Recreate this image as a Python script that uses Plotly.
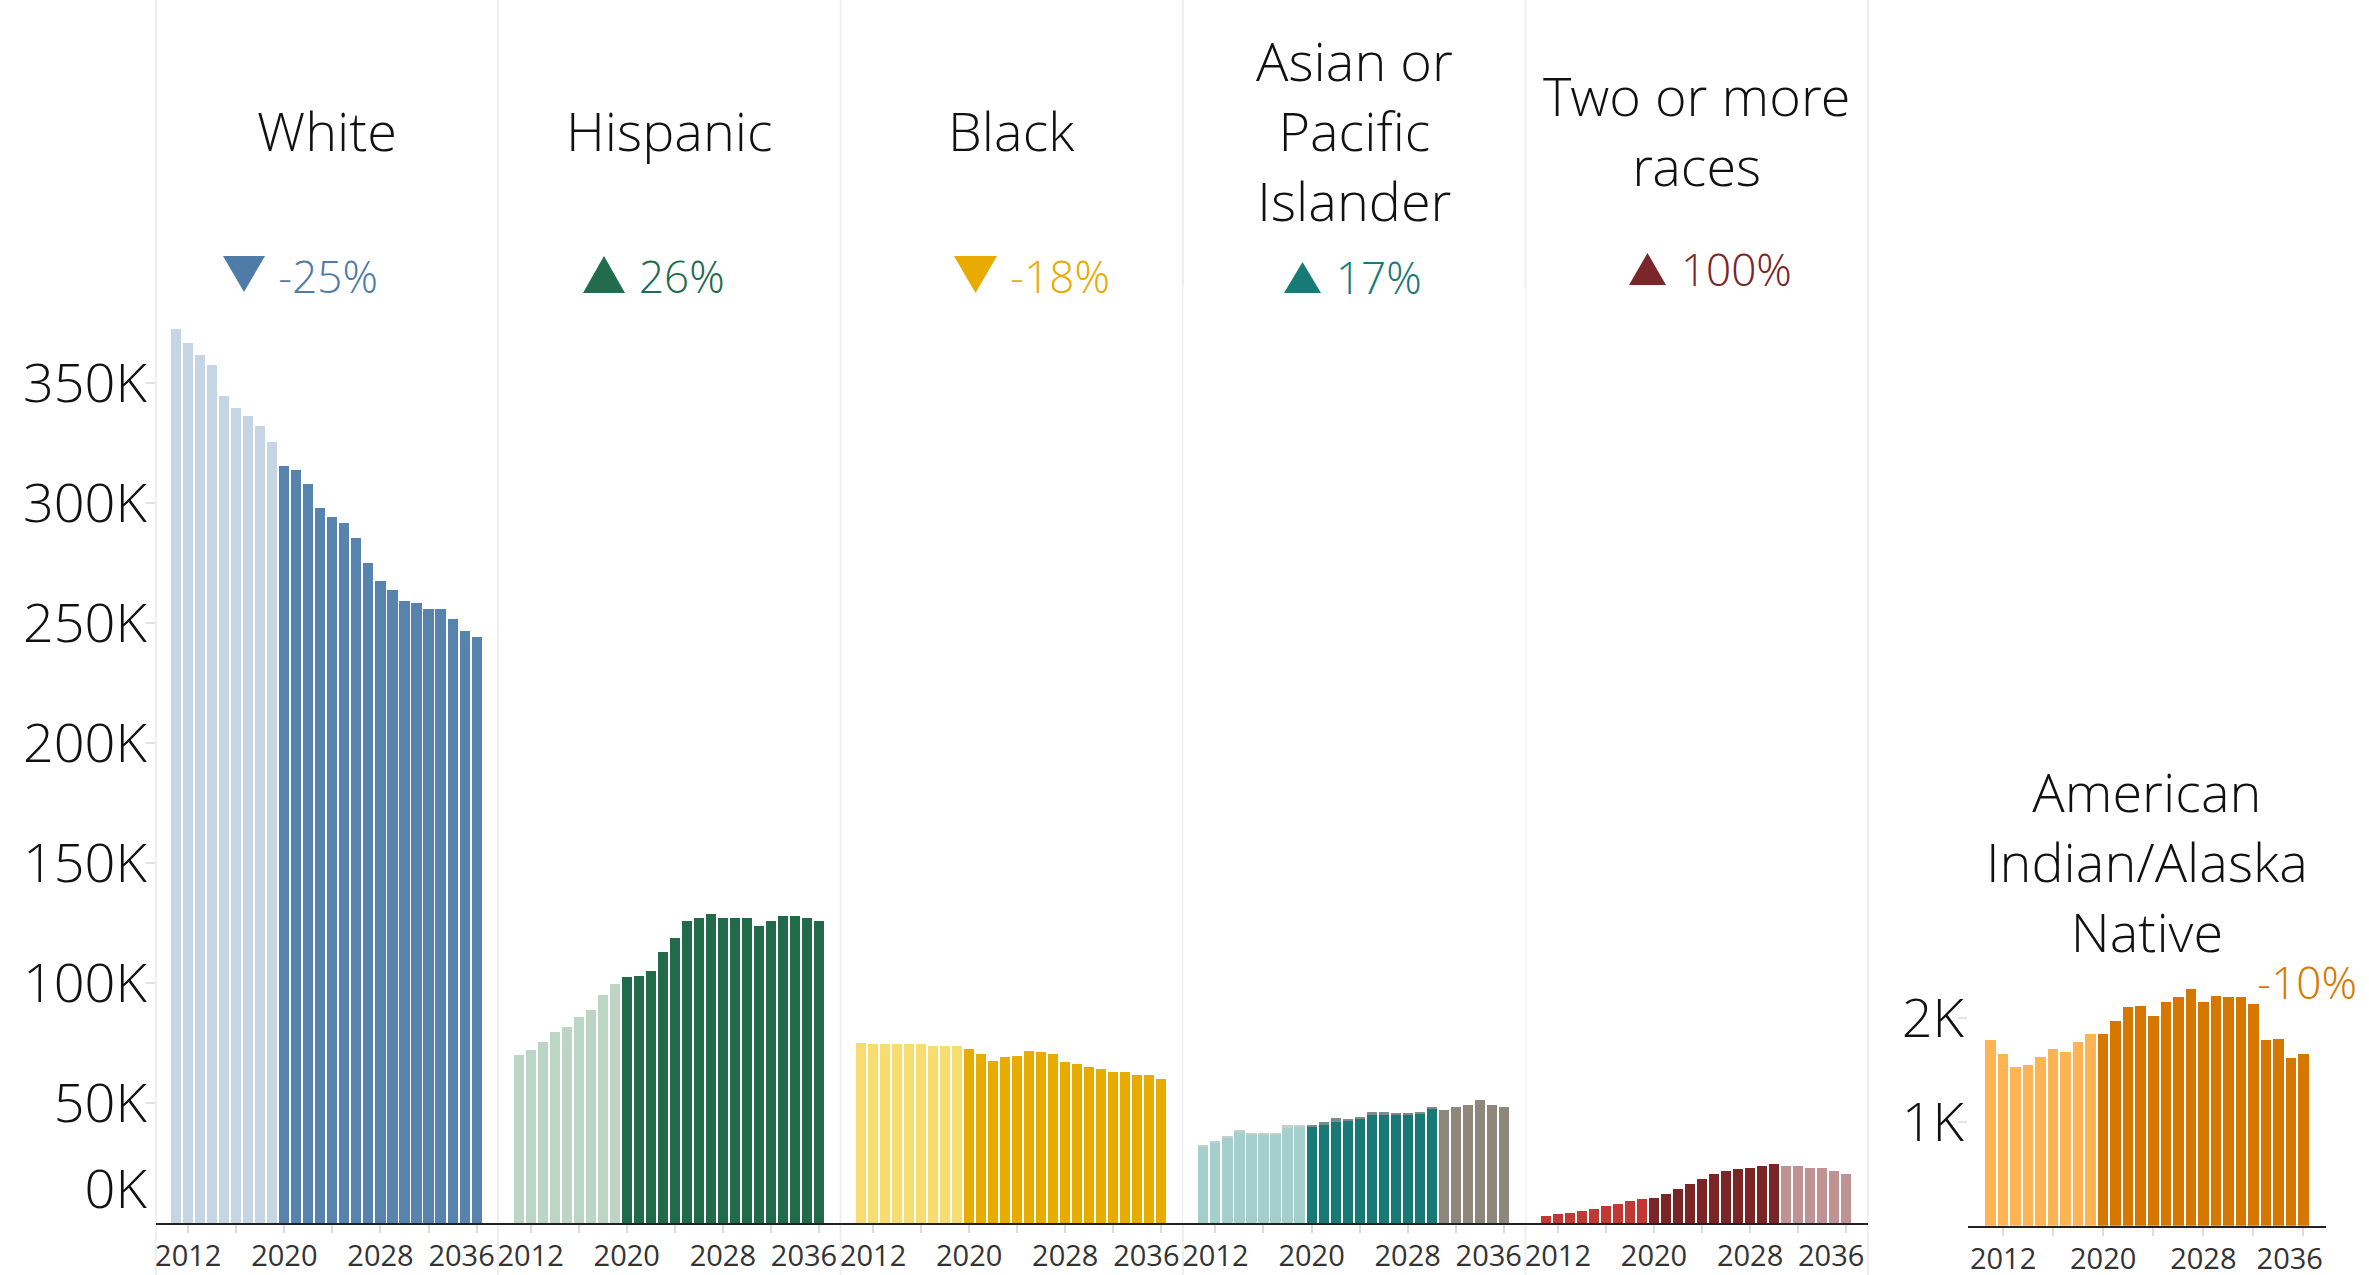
import plotly.graph_objects as go

W, H = 2369, 1275


def X(px):
    return px / W


def Y(py):
    return 1 - py / H


# ---------------- data ----------------
years = list(range(2011, 2037))
tick_years = [2012, 2020, 2028, 2036]

white = [372.8, 366.7, 361.8, 357.6, 344.6, 339.7, 336.4, 332.2, 325.4,
         315.7, 313.7, 308.2, 297.9, 294.4, 291.7, 285.4, 275.1, 267.5,
         264.0, 259.3, 258.6, 255.8, 255.8, 251.7, 246.9, 244.2]
hispanic = [70.3, 72.2, 75.7, 79.9, 81.9, 86.1, 88.9, 95.0, 99.9,
            102.6, 103.2, 105.3, 112.9, 119.0, 126.0, 127.4, 128.8, 127.4,
            127.4, 127.4, 124.0, 126.0, 128.1, 128.1, 127.4, 126.0]
black = [75.3, 74.7, 74.7, 74.7, 74.7, 74.7, 74.0, 74.0, 74.0,
         72.6, 70.6, 67.8, 69.2, 69.9, 71.9, 71.3, 70.6, 67.2,
         66.5, 65.1, 64.4, 63.1, 63.1, 61.7, 61.7, 60.3]
asian = [32.0, 33.4, 35.5, 38.3, 36.9, 36.9, 36.8, 39.6, 40.0,
         40.3, 41.0, 42.3, 42.5, 43.6, 45.0, 45.0, 45.0, 45.0, 45.7, 47.8,
         None, None, None, None, None, None]
pacific_islander = [0.6, 0.6, 0.6, 0.6, 0.6, 0.6, 0.7, 1.4, 1.0,
                    0.7, 1.3, 1.4, 0.6, 0.7, 1.5, 1.5, 0.8, 0.8, 0.8, 0.8,
                    None, None, None, None, None, None]
asian_pi_combined = [None] * 20 + [47.2, 48.6, 49.3, 51.3, 49.2, 48.5]
two_or_more = [3.06, 3.75, 4.44, 5.14, 5.83, 7.22, 7.92, 9.31, 10.0,
               10.7, 12.1, 14.2, 16.25, 18.3, 20.4, 21.8, 22.5, 23.2,
               23.9, 24.6, 23.9, 23.9, 23.2, 23.2, 21.8, 20.4]
aian = [1781, 1653, 1527, 1543, 1621, 1701, 1669, 1765, 1842,
        1842, 1971, 2100, 2116, 2019, 2148, 2196, 2273, 2148,
        2212, 2196, 2196, 2132, 1781, 1797, 1608, 1653]

main_titles = ["White", "Hispanic", "Black", "Asian or<br>Pacific<br>Islander",
               "Two or more<br>races"]
aian_title = "American<br>Indian/Alaska<br>Native"
changes = ["-25%", "26%", "-18%", "17%", "100%"]
aian_change = "-10%"

y_ticks = [0, 50, 100, 150, 200, 250, 300, 350]
y_tick_text = ["0K", "50K", "100K", "150K", "200K", "250K", "300K", "350K"]
aian_ticks = [0, 1000, 2000]
aian_tick_text = ["", "1K", "2K"]

# ---------------- styling ----------------
FONT = "Open Sans Light, Open Sans"
FONT_REG = "Open Sans"
PROJ = 2020   # first projected year (darker colour)
LATE = 2031   # third colour band in some panels


def colors(c1, c2, c3=None):
    out = []
    for yr in years:
        if yr < PROJ:
            out.append(c1)
        elif c3 is not None and yr >= LATE:
            out.append(c3)
        else:
            out.append(c2)
    return out


K = lambda arr: [None if v is None else v * 1000 for v in arr]

fig = go.Figure()

bar_kw = dict(marker_line_width=0, hoverinfo="x+y", showlegend=False)

fig.add_trace(go.Bar(x=years, y=K(white), xaxis="x", yaxis="y",
                     marker_color=colors("#c5d5e3", "#5784ae"), **bar_kw))
fig.add_trace(go.Bar(x=years, y=K(hispanic), xaxis="x2", yaxis="y2",
                     marker_color=colors("#bdd5c4", "#216a4a"), **bar_kw))
fig.add_trace(go.Bar(x=years, y=K(black), xaxis="x3", yaxis="y3",
                     marker_color=colors("#f7dc6f", "#e8ab00"), **bar_kw))
fig.add_trace(go.Bar(x=years, y=K(asian), xaxis="x4", yaxis="y4",
                     marker_color=colors("#a4cfcd", "#187a76"), **bar_kw))
fig.add_trace(go.Bar(x=years, y=K(pacific_islander), xaxis="x4", yaxis="y4",
                     marker_color=colors("#c3d0ce", "#7b8d8a"), **bar_kw))
fig.add_trace(go.Bar(x=years, y=K(asian_pi_combined), xaxis="x4", yaxis="y4",
                     marker_color="#8f877c", **bar_kw))
fig.add_trace(go.Bar(x=years, y=K(two_or_more), xaxis="x5", yaxis="y5",
                     marker_color=colors("#c23834", "#7a2627", "#bf9394"), **bar_kw))
fig.add_trace(go.Bar(x=years, y=aian, xaxis="x6", yaxis="y6",
                     marker_color=colors("#feb453", "#d57700"), **bar_kw))

# ---------------- axes ----------------
P0, PW = 155.8, 342.4
BASE, TOP = 1223.3, 287.3
YMAX = 390000
XR = [2009.3, 2037.8]

label_pos = [t if t != 2036 else 2034.75 for t in tick_years]

layout = dict(
    width=W, height=H, margin=dict(l=0, r=0, t=0, b=0, autoexpand=False),
    paper_bgcolor="white", plot_bgcolor="white",
    barmode="stack", bargap=0.16,
    font=dict(family=FONT_REG, color="#111111"),
)


def xaxis_def(x0, x1, anchor, xr, lab):
    return dict(
        domain=[X(x0), X(x1)], range=xr, anchor=anchor, automargin=False,
        showgrid=False, zeroline=False,
        showline=True, linecolor="#222222", linewidth=2, layer="below traces",
        tickmode="array", tickvals=lab, ticktext=[str(t) for t in tick_years],
        ticks="inside", ticklen=0, tickcolor="rgba(0,0,0,0)",
        minor=dict(tickmode="array", tickvals=list(range(2012, 2037, 4)),
                   ticks="outside", ticklen=8, tickcolor="#dcdcdc", tickwidth=1.5,
                   showgrid=False),
        tickfont=dict(size=29, color="#333333", family=FONT_REG),
        ticklabelstandoff=6, fixedrange=True,
    )


for i in range(5):
    n = "" if i == 0 else str(i + 1)
    x0 = P0 + PW * i
    layout["xaxis" + n] = xaxis_def(x0, x0 + PW, "y" + n, XR, label_pos)
    ya = dict(domain=[Y(BASE), Y(TOP)], range=[0, YMAX], anchor="x" + n,
              automargin=False,
              showgrid=False, zeroline=False, showline=False, fixedrange=True)
    if i == 0:
        ya.update(
            tickmode="array",
            tickvals=[14200 if v == 0 else v * 1000 for v in y_ticks],
            ticktext=y_tick_text,
            ticks="inside", ticklen=0, tickcolor="rgba(0,0,0,0)",
            minor=dict(tickmode="array", tickvals=[v * 1000 for v in y_ticks],
                       ticks="outside", ticklen=9, tickcolor="#e2e2e2", tickwidth=1.5,
                       showgrid=False),
            tickfont=dict(size=54, color="#111111", family=FONT, weight=300),
            ticklabelstandoff=8,
        )
    else:
        ya.update(showticklabels=False, ticks="")
    layout["yaxis" + n] = ya

# American Indian / Alaska Native panel
A_L, A_R = 1968, 2326
A_BASE, A_TOP = 1225.7, 976.0
aian_label_pos = [t if t != 2036 else 2034.9 for t in tick_years]
layout["xaxis6"] = xaxis_def(A_L, A_R, "y6", [2009.2, 2037.8], aian_label_pos)
layout["yaxis6"] = dict(
    domain=[Y(A_BASE), Y(A_TOP)], range=[0, 2400], anchor="x6", automargin=False,
    showgrid=False, zeroline=False, showline=False, fixedrange=True,
    tickmode="array", tickvals=aian_ticks[1:], ticktext=aian_tick_text[1:],
    ticks="inside", ticklen=0, tickcolor="rgba(0,0,0,0)",
    minor=dict(tickmode="array", tickvals=aian_ticks, ticks="outside", ticklen=9,
               tickcolor="#e2e2e2", tickwidth=1.5, showgrid=False),
    tickfont=dict(size=54, color="#111111", family=FONT, weight=300),
    ticklabelstandoff=3,
)

fig.update_layout(**layout)

# ---------------- dividers ----------------
shapes = []
for i in range(6):
    xp = P0 + PW * i
    shapes.append(dict(type="line", xref="paper", yref="paper",
                       x0=X(xp), x1=X(xp), y0=0, y1=1,
                       line=dict(color="#eeeeee", width=2), layer="below"))

# ---------------- titles & change indicators ----------------
ann = []
for i, t in enumerate(main_titles):
    cx = P0 + PW * (i + 0.5)
    ann.append(dict(xref="paper", yref="paper", x=X(cx), y=Y(130), text=t,
                    showarrow=False, xanchor="center", yanchor="middle",
                    font=dict(size=54, family=FONT, color="#111111", weight=300)))
ann.append(dict(xref="paper", yref="paper", x=X(2147), y=Y(861), text=aian_title,
                showarrow=False, xanchor="center", yanchor="middle",
                font=dict(size=54, family=FONT, color="#111111", weight=300)))

change_colors = ["#4f7ba8", "#226b4c", "#e9ab00", "#177a75", "#7b2628"]
# (direction, tri_left, tri_right, tri_top, tri_bottom, text_left, text_mid)
indicator_geom = [
    ("down", 223, 265, 256, 292, 276, 276),
    ("up", 583, 625, 256, 293, 637, 276),
    ("down", 954, 997, 256, 293, 1008, 276),
    ("up", 1284, 1321, 262, 293, 1334, 277),
    ("up", 1629, 1666, 253, 285, 1679, 269),
]
for (d, l, r, t, b, tx, ty), txt, col in zip(indicator_geom, changes, change_colors):
    cx = (l + r) / 2
    if d == "down":
        path = f"M {X(l)} {Y(t)} L {X(r)} {Y(t)} L {X(cx)} {Y(b)} Z"
    else:
        path = f"M {X(l)} {Y(b)} L {X(r)} {Y(b)} L {X(cx)} {Y(t)} Z"
    shapes.append(dict(type="path", xref="paper", yref="paper", path=path,
                       fillcolor=col, line=dict(width=0)))
    ann.append(dict(xref="paper", yref="paper", x=X(tx), y=Y(ty), text=txt,
                    showarrow=False, xanchor="left", yanchor="middle",
                    font=dict(size=44, family=FONT, color=col, weight=300)))

ann.append(dict(xref="paper", yref="paper", x=X(2307), y=Y(982), text=aian_change,
                showarrow=False, xanchor="center", yanchor="middle",
                font=dict(size=44, family=FONT, color="#d87800", weight=300)))

fig.update_layout(shapes=shapes, annotations=ann)

fig.write_html("out.html", config={"displayModeBar": False},
               post_script="document.body.style.margin='0';document.body.style.overflow='hidden';")
